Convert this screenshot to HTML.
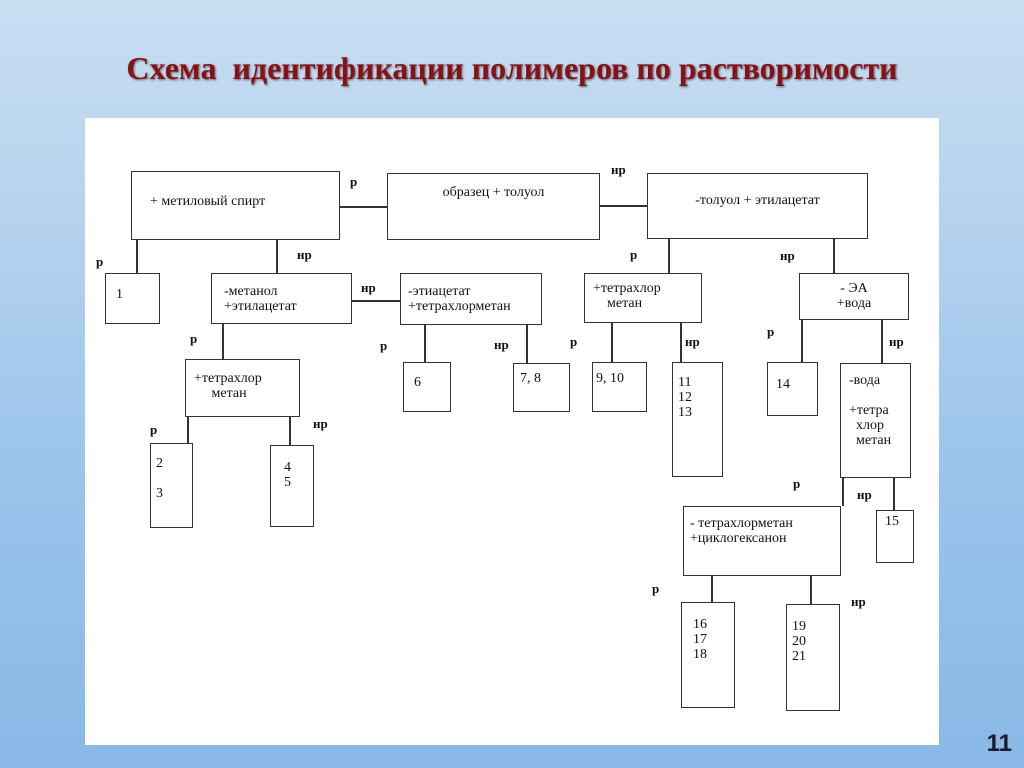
<!DOCTYPE html>
<html><head><meta charset="utf-8"><style>
html,body{margin:0;padding:0}
body{width:1024px;height:768px;position:relative;overflow:hidden;
background:linear-gradient(180deg,#c8def2 0%,#b4d2ee 30%,#9cc4ec 60%,#88b8e6 100%);
font-family:"Liberation Serif",serif}
.t{position:absolute;left:0;width:1024px;top:50px;text-align:center;font-size:32px;font-weight:bold;color:#8a1111;text-shadow:1px 1px 2px #5a6a80}
.panel{position:absolute;left:85px;top:118px;width:854px;height:627px;background:#fff}
.b{position:absolute;border:1.5px solid #333;box-sizing:border-box;font-size:14px;color:#111;line-height:15px;padding:3px 6px;background:#fff}
.h{position:absolute;height:1.5px;background:#333}
.v{position:absolute;width:1.5px;background:#333}
.l{position:absolute;font-size:13px;font-weight:bold;color:#111}
.n{position:absolute;right:12px;top:730px;font:bold 24px "Liberation Sans",sans-serif;color:#1a1a2a}
</style></head><body>
<div class="t">Схема &nbsp;идентификации полимеров по растворимости</div>
<div class="panel"></div>

<div class="h" style="left:340px;top:206px;width:47px"></div>
<div class="h" style="left:600px;top:205px;width:47px"></div>
<div class="h" style="left:352px;top:300px;width:48px"></div>
<div class="v" style="left:136px;top:240px;height:33px"></div>
<div class="v" style="left:276px;top:240px;height:33px"></div>
<div class="v" style="left:222px;top:324px;height:35px"></div>
<div class="v" style="left:187px;top:417px;height:26px"></div>
<div class="v" style="left:289px;top:417px;height:28px"></div>
<div class="v" style="left:424px;top:325px;height:37px"></div>
<div class="v" style="left:526px;top:325px;height:38px"></div>
<div class="v" style="left:668px;top:239px;height:34px"></div>
<div class="v" style="left:833px;top:239px;height:34px"></div>
<div class="v" style="left:611px;top:323px;height:39px"></div>
<div class="v" style="left:680px;top:323px;height:39px"></div>
<div class="v" style="left:801px;top:320px;height:42px"></div>
<div class="v" style="left:881px;top:320px;height:43px"></div>
<div class="v" style="left:842px;top:478px;height:28px"></div>
<div class="v" style="left:893px;top:478px;height:32px"></div>
<div class="v" style="left:711px;top:576px;height:26px"></div>
<div class="v" style="left:810px;top:576px;height:28px"></div>

<div class="b" style="left:131px;top:171px;width:209px;height:69px;padding:22px 0 0 18px">+ метиловый спирт</div>
<div class="b" style="left:387px;top:173px;width:213px;height:67px;padding:11px 0 0 0;text-align:center">образец + толуол</div>
<div class="b" style="left:647px;top:173px;width:221px;height:66px;padding:19px 0 0 0;text-align:center">-толуол + этилацетат</div>
<div class="b" style="left:105px;top:273px;width:55px;height:51px;padding:13px 0 0 10px">1</div>
<div class="b" style="left:211px;top:273px;width:141px;height:51px;padding:10px 0 0 12px">-метанол<br>+этилацетат</div>
<div class="b" style="left:400px;top:273px;width:142px;height:52px;padding:10px 0 0 7px">-этиацетат<br>+тетрахлорметан</div>
<div class="b" style="left:584px;top:273px;width:118px;height:50px;padding:7px 0 0 8px">+тетрахлор<br>&nbsp;&nbsp;&nbsp;&nbsp;метан</div>
<div class="b" style="left:799px;top:273px;width:110px;height:47px;padding:7px 0 0 0;text-align:center">- ЭА<br>+вода</div>
<div class="b" style="left:185px;top:359px;width:115px;height:58px;padding:11px 0 0 8px">+тетрахлор<br>&nbsp;&nbsp;&nbsp;&nbsp;&nbsp;метан</div>
<div class="b" style="left:403px;top:362px;width:48px;height:50px;padding:12px 0 0 10px">6</div>
<div class="b" style="left:513px;top:363px;width:57px;height:49px;padding:7px 0 0 6px">7, 8</div>
<div class="b" style="left:592px;top:362px;width:55px;height:50px;padding:8px 0 0 3px">9, 10</div>
<div class="b" style="left:672px;top:362px;width:51px;height:115px;padding:12px 0 0 5px">11<br>12<br>13</div>
<div class="b" style="left:767px;top:362px;width:51px;height:54px;padding:14px 0 0 8px">14</div>
<div class="b" style="left:840px;top:363px;width:71px;height:115px;padding:9px 0 0 8px">-вода<br><br>+тетра<br>&nbsp;&nbsp;хлор<br>&nbsp;&nbsp;метан</div>
<div class="b" style="left:150px;top:443px;width:43px;height:85px;padding:12px 0 0 5px">2<br><br>3</div>
<div class="b" style="left:270px;top:445px;width:44px;height:82px;padding:14px 0 0 13px">4<br>5</div>
<div class="b" style="left:876px;top:510px;width:38px;height:53px;padding:3px 0 0 8px">15</div>
<div class="b" style="left:683px;top:506px;width:158px;height:70px;padding:9px 0 0 6px">- тетрахлорметан<br>+циклогексанон</div>
<div class="b" style="left:681px;top:602px;width:54px;height:106px;padding:14px 0 0 11px">16<br>17<br>18</div>
<div class="b" style="left:786px;top:604px;width:54px;height:107px;padding:14px 0 0 5px">19<br>20<br>21</div>

<div class="l" style="left:350px;top:174px">р</div>
<div class="l" style="left:611px;top:162px">нр</div>
<div class="l" style="left:96px;top:254px">р</div>
<div class="l" style="left:297px;top:247px">нр</div>
<div class="l" style="left:361px;top:280px">нр</div>
<div class="l" style="left:190px;top:331px">р</div>
<div class="l" style="left:380px;top:338px">р</div>
<div class="l" style="left:494px;top:337px">нр</div>
<div class="l" style="left:570px;top:334px">р</div>
<div class="l" style="left:630px;top:247px">р</div>
<div class="l" style="left:780px;top:248px">нр</div>
<div class="l" style="left:685px;top:334px">нр</div>
<div class="l" style="left:767px;top:324px">р</div>
<div class="l" style="left:889px;top:334px">нр</div>
<div class="l" style="left:150px;top:422px">р</div>
<div class="l" style="left:313px;top:416px">нр</div>
<div class="l" style="left:793px;top:476px">р</div>
<div class="l" style="left:857px;top:487px">нр</div>
<div class="l" style="left:652px;top:581px">р</div>
<div class="l" style="left:851px;top:594px">нр</div>

<div class="n">11</div>
</body></html>
